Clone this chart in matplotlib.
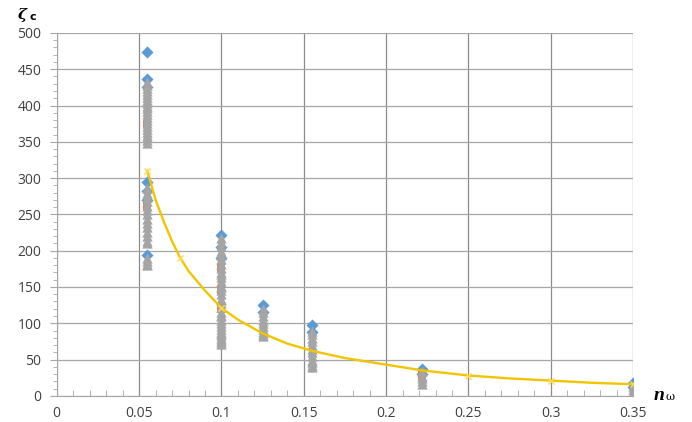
import matplotlib.pyplot as plt
from matplotlib.ticker import MultipleLocator

# series
x_blue = [0.055, 0.055, 0.055, 0.055, 0.055, 0.055, 0.055, 0.1, 0.1, 0.1, 0.125, 0.125,
          0.155, 0.155, 0.222, 0.222, 0.35, 0.35]
y_blue = [474, 437, 425, 295, 282, 270, 194, 222, 205, 190, 125, 115, 97, 88, 37, 30, 18, 12]

x_orange = [0.055, 0.055, 0.1, 0.1, 0.1, 0.222, 0.222]
y_orange = [375, 262, 176, 146, 120, 32, 26]

x_gray = [0.055] * 40 + [0.1] * 34 + [0.125] * 10 + [0.155] * 12 + [0.222] * 5 + [0.35] * 3
y_gray = [432, 428, 424, 420, 416, 412, 408, 404, 400, 396, 392, 388, 384, 380, 376, 372,
          368, 364, 360, 356, 352, 348,
          286, 280, 274, 268, 262, 256, 250, 244, 238, 232, 226, 220, 214, 210, 190, 186, 182, 180,
          218, 212, 206, 200, 194, 188, 182, 176, 170, 164, 158, 152, 146, 140, 134, 128, 122,
          116, 110, 105, 100, 96, 92, 88, 84, 80, 77, 74, 71, 168, 150, 132, 112, 86,
          120, 115, 110, 105, 100, 96, 92, 88, 85, 83,
          90, 85, 80, 75, 70, 65, 60, 55, 50, 46, 42, 40,
          34, 28, 24, 20, 16,
          14, 9, 5]

# smooth trend curve (yellow) and its markers
x_curve = [0.055, 0.06, 0.065, 0.07, 0.075, 0.08, 0.09, 0.1, 0.11, 0.125, 0.14, 0.155,
           0.175, 0.2, 0.222, 0.25, 0.275, 0.3, 0.325, 0.35]
y_curve = [310, 270, 240, 213, 190, 172, 145, 121, 105, 86, 72, 62, 52, 43, 35, 28, 24, 21, 18, 16]
x_mark = [0.055, 0.075, 0.1, 0.25, 0.3, 0.35]
y_mark = [310, 190, 121, 28, 21, 16]

x_ticks = [0, 0.05, 0.1, 0.15, 0.2, 0.25, 0.3, 0.35]
x_ticklabels = ['0', '0.05', '0.1', '0.15', '0.2', '0.25', '0.3', '0.35']

fig = plt.figure(figsize=(6.92, 4.22), dpi=100)
ax = fig.add_axes([0.082, 0.062, 0.833, 0.860])

ax.scatter(x_blue, y_blue, marker='D', s=38, color='#5B9BD5', zorder=3, linewidths=0)
ax.scatter(x_orange, y_orange, marker='s', s=30, color='#ED7D31', zorder=3, linewidths=0)
ax.scatter(x_gray, y_gray, marker='^', s=55, color='#A5A5A5', zorder=4, linewidths=0)
ax.plot(x_curve, y_curve, color='#F2C500', lw=1.7, zorder=5)
ax.scatter(x_mark, y_mark, marker='x', s=20, color='#FFD84D', zorder=5, linewidths=1)

ax.set_xlim(0, 0.35)
ax.set_ylim(0, 500)
ax.set_xticks(x_ticks)
ax.set_xticklabels(x_ticklabels)
ax.xaxis.set_minor_locator(MultipleLocator(0.01))
ax.yaxis.set_major_locator(MultipleLocator(50))
ax.yaxis.set_minor_locator(MultipleLocator(10))

ax.grid(axis='y', which='major', color='#A6A6A6', lw=0.9)
ax.grid(axis='x', which='major', color='#8C8C8C', lw=0.9)
ax.set_axisbelow(True)

for s in ['top', 'right']:
    ax.spines[s].set_visible(False)
for s in ['left', 'bottom']:
    ax.spines[s].set_color('#A6A6A6')

ax.tick_params(axis='both', which='both', color='#A6A6A6', labelcolor='#404040',
               labelsize=10, labelfontfamily='Open Sans')
ax.tick_params(axis='x', which='major', length=0, pad=7)
ax.tick_params(axis='x', which='minor', length=4, direction='in')
ax.tick_params(axis='y', which='major', length=5, pad=6)
ax.tick_params(axis='y', which='minor', length=3)

fig.text(0.026, 0.955, 'ζ', fontsize=11, fontweight='bold', fontstyle='italic', family='DejaVu Serif')
fig.text(0.042, 0.952, 'c', fontsize=8, fontweight='bold', family='DejaVu Sans')
fig.text(0.945, 0.052, 'n', fontsize=14, fontweight='bold', fontstyle='italic', family='Liberation Serif')
fig.text(0.962, 0.052, 'ω', fontsize=8, family='DejaVu Serif')

fig.savefig('out.png', dpi=100)
